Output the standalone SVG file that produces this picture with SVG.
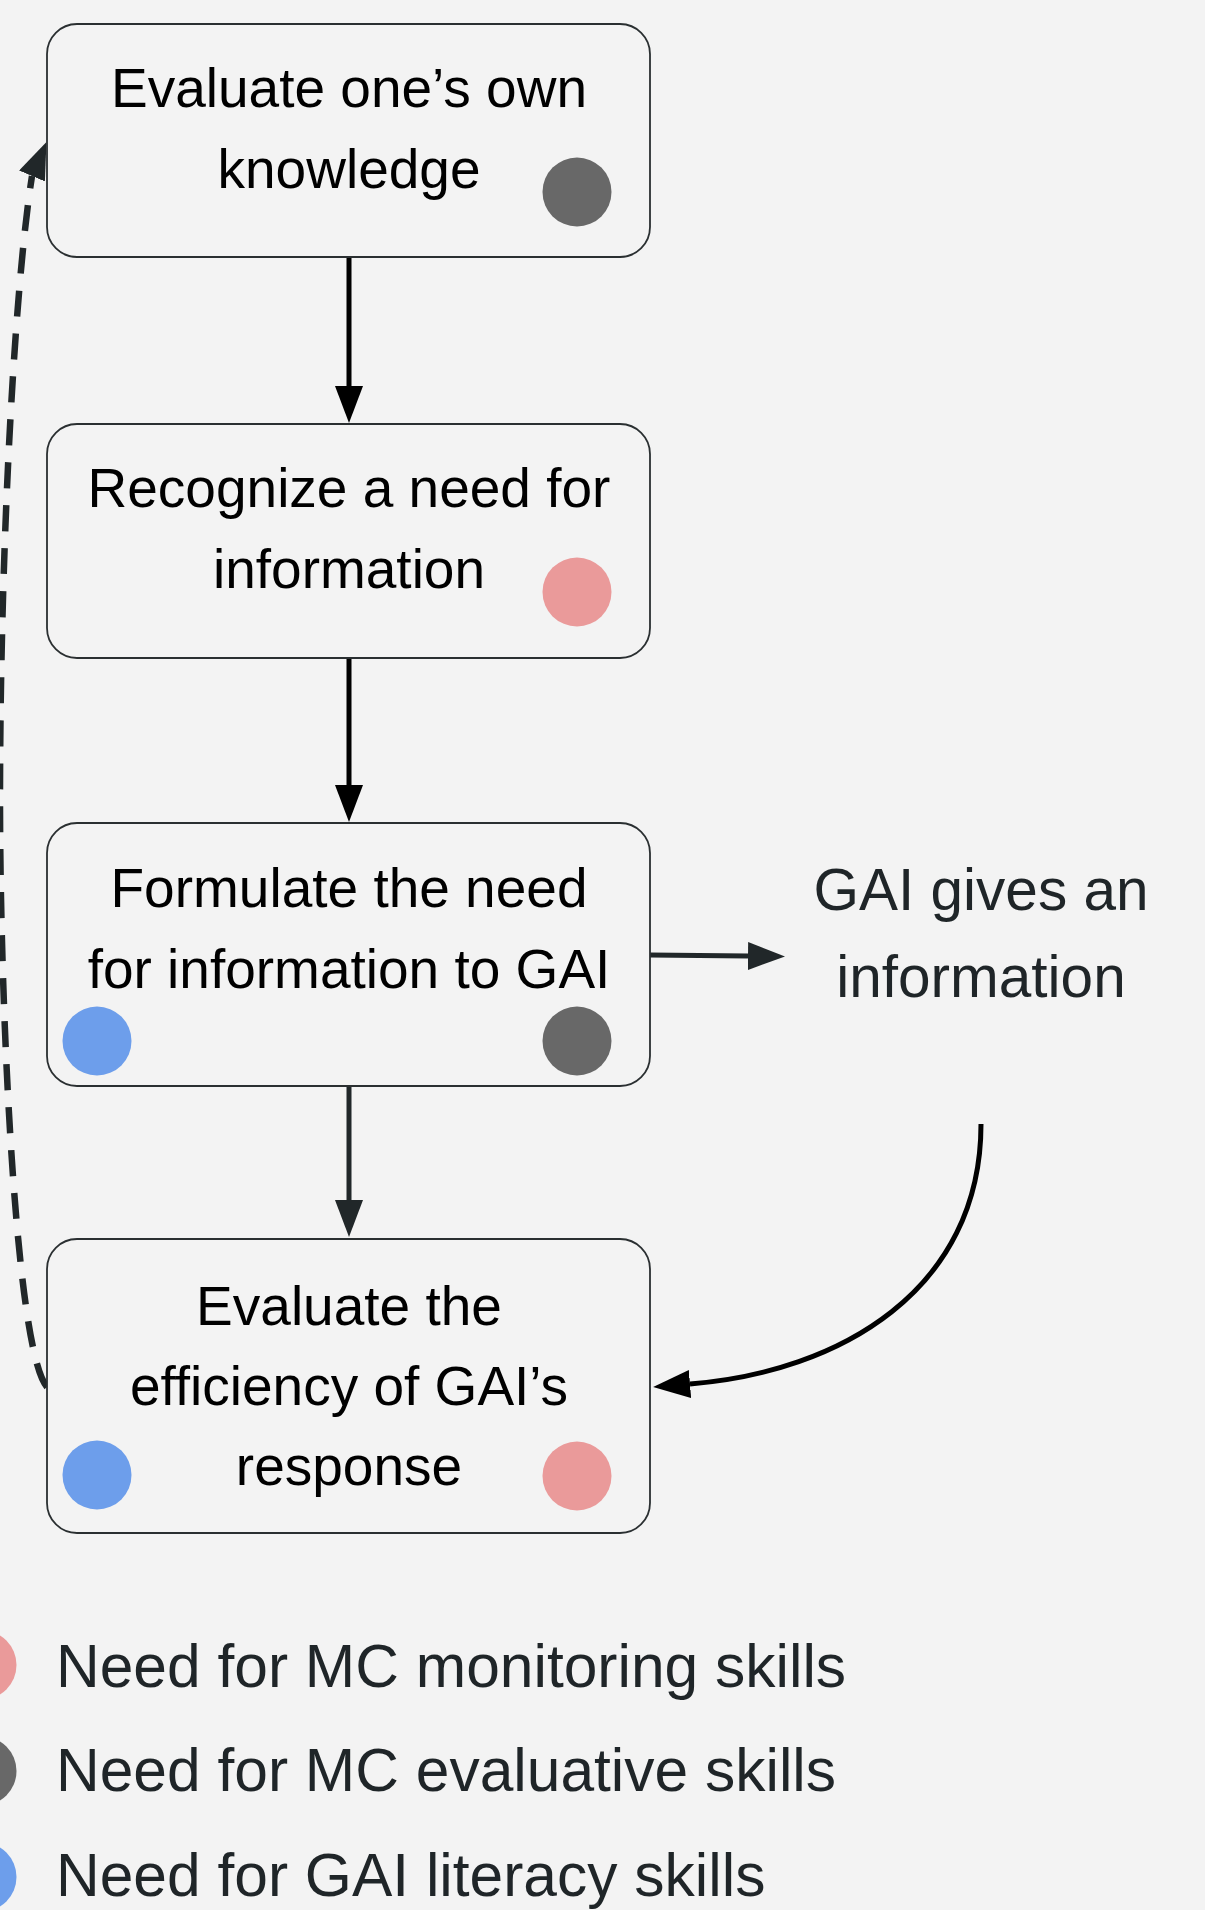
<svg xmlns="http://www.w3.org/2000/svg" width="1205" height="1910" viewBox="0 0 1205 1910">
  <style>
    .box { fill: #f3f3f3; stroke: #2a2f31; stroke-width: 1.8; }
    .label { font-family: "Liberation Sans", Arial, sans-serif; font-size: 55px; fill: #000; text-anchor: middle; }
    .side { font-family: "Liberation Sans", Arial, sans-serif; font-size: 58.5px; fill: #1f2528; text-anchor: middle; }
    .legend { font-family: "Liberation Sans", Arial, sans-serif; font-size: 60.5px; fill: #1f2528; }
    .mon { fill: #ea9a9a; }
    .eva { fill: #686868; }
    .lit { fill: #6d9eeb; }
    .edge { fill: none; stroke-width: 5; }
    .dark { stroke: #000; }
    .slate { stroke: #212729; }
    .dashed { stroke: #212729; stroke-width: 6.5; stroke-dasharray: 26 17; }
  </style>
  <defs>
    <marker id="head-black" markerUnits="userSpaceOnUse" markerWidth="38" markerHeight="28" refX="0" refY="14" orient="auto">
      <path d="M0,0 L37,14 L0,28 Z" fill="#000"/>
    </marker>
    <marker id="head-slate" markerUnits="userSpaceOnUse" markerWidth="38" markerHeight="28" refX="0" refY="14" orient="auto">
      <path d="M0,0 L37,14 L0,28 Z" fill="#212729"/>
    </marker>
    <marker id="head-loop" markerUnits="userSpaceOnUse" markerWidth="38" markerHeight="28" refX="0" refY="14" orient="-67">
      <path d="M0,0 L37,14 L0,28 Z" fill="#212729"/>
    </marker>
  </defs>

  <rect width="1205" height="1910" fill="#f3f3f3"/>

  <!-- connectors -->
  <g id="connectors">
    <path class="edge dark" d="M349,257 L349,386" marker-end="url(#head-black)"/>
    <path class="edge dark" d="M349,658 L349,785" marker-end="url(#head-black)"/>
    <path class="edge slate" d="M349,1086 L349,1200" marker-end="url(#head-slate)"/>
    <path class="edge slate" d="M650,955 L748,956" marker-end="url(#head-slate)"/>
    <path class="edge dark" d="M981,1124 C981,1290 840,1372 690,1384" marker-end="url(#head-black)"/>
    <path class="edge dashed" d="M47,1387 C15,1350 0,1000 0,800 C0,560 14,290 32,176" marker-end="url(#head-loop)"/>
  </g>

  <!-- step 1 -->
  <g id="evaluate-knowledge">
    <rect class="box" x="47" y="24" width="603" height="233" rx="30"/>
    <text class="label" x="349" y="107">Evaluate one’s own</text>
    <text class="label" x="349" y="188">knowledge</text>
    <circle class="eva" cx="577" cy="192" r="34.5"/>
  </g>

  <!-- step 2 -->
  <g id="recognize-need">
    <rect class="box" x="47" y="424" width="603" height="234" rx="30"/>
    <text class="label" x="349" y="507">Recognize a need for</text>
    <text class="label" x="349" y="588">information</text>
    <circle class="mon" cx="577" cy="592" r="34.5"/>
  </g>

  <!-- step 3 -->
  <g id="formulate-need">
    <rect class="box" x="47" y="823" width="603" height="263" rx="30"/>
    <text class="label" x="349" y="907">Formulate the need</text>
    <text class="label" x="349" y="988">for information to GAI</text>
    <circle class="lit" cx="97" cy="1041" r="34.5"/>
    <circle class="eva" cx="577" cy="1041" r="34.5"/>
  </g>

  <!-- GAI response -->
  <g id="gai-gives">
    <text class="side" x="981" y="910">GAI gives an</text>
    <text class="side" x="981" y="997">information</text>
  </g>

  <!-- step 4 -->
  <g id="evaluate-efficiency">
    <rect class="box" x="47" y="1239" width="603" height="294" rx="30"/>
    <text class="label" x="349" y="1325">Evaluate the</text>
    <text class="label" x="349" y="1405">efficiency of GAI’s</text>
    <text class="label" x="349" y="1485">response</text>
    <circle class="lit" cx="97" cy="1475" r="34.5"/>
    <circle class="mon" cx="577" cy="1476" r="34.5"/>
  </g>

  <!-- legend -->
  <g id="legend">
    <circle class="mon" cx="-18" cy="1665" r="34.5"/>
    <text class="legend" x="56" y="1687">Need for MC monitoring skills</text>
    <circle class="eva" cx="-18" cy="1771" r="34.5"/>
    <text class="legend" x="56" y="1791">Need for MC evaluative skills</text>
    <circle class="lit" cx="-18" cy="1877" r="34.5"/>
    <text class="legend" x="56" y="1896">Need for GAI literacy skills</text>
  </g>
</svg>
